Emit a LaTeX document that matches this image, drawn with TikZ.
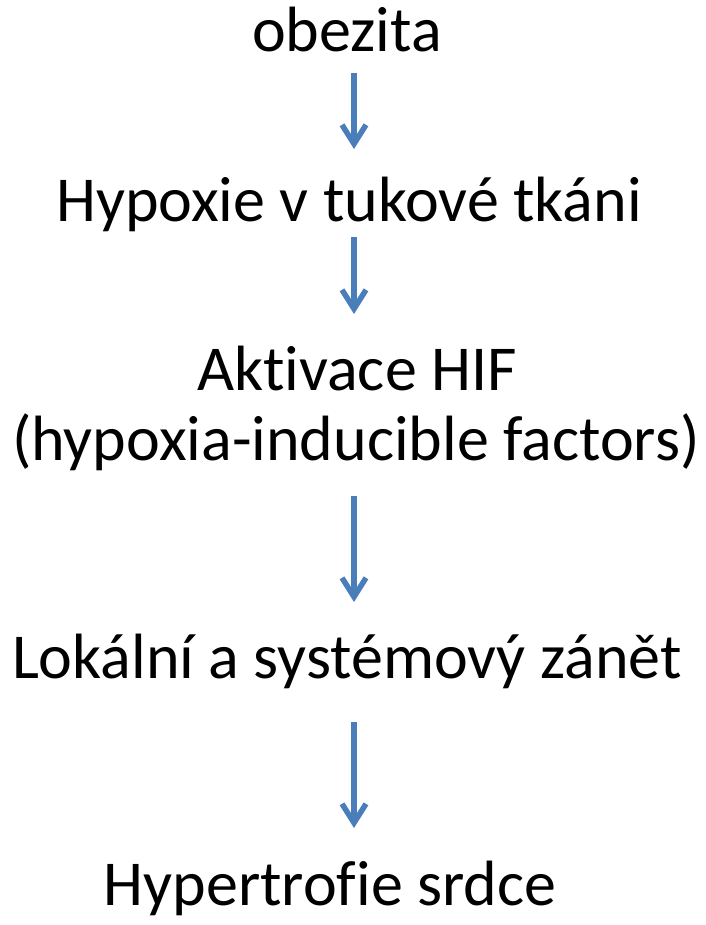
\documentclass[tikz,border=0pt]{standalone}
\usepackage{fontspec}
\setmainfont[Ligatures=CommonOff]{Carlito}
\usetikzlibrary{arrows.meta}
\begin{document}
\begin{tikzpicture}[x=1pt,y=-1pt,
  lbl/.style={anchor=base,inner sep=0pt,font=\fontsize{64}{76}\selectfont},
  arr/.style={draw={rgb,255:red,74;green,126;blue,187},line width=5.5pt,
    -{Straight Barb[length=19pt,width=24pt,line join=miter,line cap=butt]}}]
\useasboundingbox (0,0) rectangle (705,925);
\node[lbl] (a) at (347,52) {obezita};
\node[lbl] (b) at (349,222) {Hypoxie v tukové tkáni};
\node[lbl] (c1) at (357,390) {Aktivace HIF};
\node[lbl] (c2) at (356,460) {(hypoxia-inducible factors)};
\node[lbl] (d) at (347,678) {Lokální a systémový zánět};
\node[lbl] (e) at (330,905) {Hypertrofie srdce};
\coordinate (a1) at (354,73); \coordinate (a2) at (354,149);
\coordinate (b1) at (354,237); \coordinate (b2) at (354,314);
\coordinate (c3) at (354,496); \coordinate (c4) at (354,602);
\coordinate (d1) at (354,722); \coordinate (d2) at (354,828);
\draw[arr] (a1) -- (a2);
\draw[arr] (b1) -- (b2);
\draw[arr] (c3) -- (c4);
\draw[arr] (d1) -- (d2);
\end{tikzpicture}
\end{document}
